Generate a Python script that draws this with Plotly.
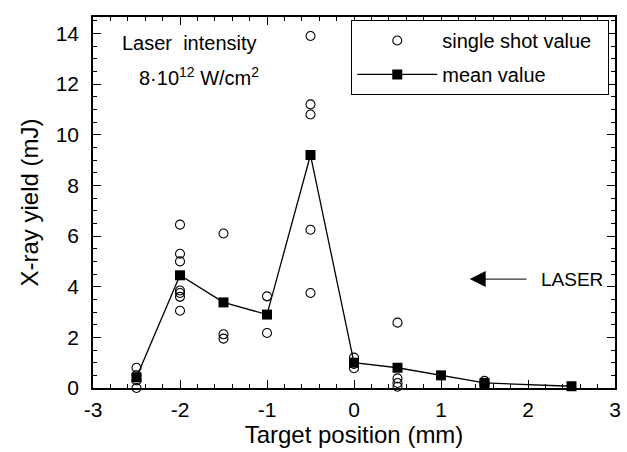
import plotly.graph_objects as go

# single shot values
shot_x = [-2.5, -2.5, -2.5, -2.5,
          -2, -2, -2, -2, -2, -2, -2,
          -1.5, -1.5, -1.5,
          -1, -1,
          -0.5, -0.5, -0.5, -0.5, -0.5,
          0, 0, 0,
          0.5, 0.5, 0.5, 0.5,
          1.5, 1.5, 1.5]
shot_y = [0.8, 0.5, 0.3, 0.0,
          6.45, 5.3, 5.0, 3.85, 3.75, 3.6, 3.05,
          6.1, 2.12, 1.95,
          3.62, 2.17,
          13.9, 11.2, 10.8, 6.25, 3.75,
          1.2, 0.95, 0.78,
          2.58, 0.38, 0.2, 0.05,
          0.28, 0.18, 0.12]

# mean values
mean_x = [-2.5, -2, -1.5, -1, -0.5, 0, 0.5, 1, 1.5, 2.5]
mean_y = [0.42, 4.45, 3.38, 2.9, 9.2, 1.0, 0.8, 0.5, 0.2, 0.07]

# tick labels
x_ticks = [-3, -2, -1, 0, 1, 2, 3]
x_labels = ["-3", "-2", "-1", "0", "1", "2", "3"]
y_ticks = [0, 2, 4, 6, 8, 10, 12, 14]
y_labels = ["0", "2", "4", "6", "8", "10", "12", "14"]

font_family = "Liberation Sans, Arial, Helvetica, sans-serif"

fig = go.Figure()
fig.add_trace(go.Scatter(
    x=shot_x, y=shot_y, mode="markers", name="single shot value\u00a0\u00a0", legendgroup="a",
    marker=dict(symbol="circle-open", size=9, color="black", line=dict(width=1.1)),
    cliponaxis=False,
))
fig.add_trace(go.Scatter(
    x=mean_x, y=mean_y, mode="lines+markers", name="mean value", legendgroup="b",
    line=dict(color="black", width=1.3),
    marker=dict(symbol="square", size=10, color="black"),
    cliponaxis=False,
))

axis_common = dict(
    showline=True, linecolor="black", linewidth=1.5, mirror="ticks",
    ticks="inside", ticklen=8, tickwidth=1.3, tickcolor="black",
    showgrid=False, zeroline=False, automargin=False,
    tickfont=dict(family=font_family, size=21, color="black"),
)

fig.update_xaxes(
    range=[-3, 3], tickmode="array", tickvals=x_ticks, ticktext=x_labels,
    minor=dict(ticks="inside", ticklen=4, tickwidth=1, tickcolor="black", dtick=0.2, tick0=-3),
    title=dict(text="Target position (mm)", font=dict(family=font_family, size=24, color="black"), standoff=4),
    ticklabelstandoff=2,
    **axis_common,
)
fig.update_yaxes(
    range=[0, 14.65], tickmode="array", tickvals=y_ticks, ticktext=y_labels,
    minor=dict(ticks="inside", ticklen=4, tickwidth=1, tickcolor="black", dtick=0.5, tick0=0),
    title=dict(text="X-ray yield (mJ)", font=dict(family=font_family, size=24, color="black"), standoff=10),
    ticklabelstandoff=8,
    **axis_common,
)

fig.add_annotation(x=0.052, y=0.93, xref="paper", yref="paper", xanchor="left", yanchor="middle",
                   text="Laser  intensity", showarrow=False,
                   font=dict(family=font_family, size=20, color="black"))
fig.add_annotation(x=0.084, y=0.84, xref="paper", yref="paper", xanchor="left", yanchor="middle",
                   text="8·10<sup>12</sup> W/cm<sup>2</sup>", showarrow=False,
                   font=dict(family=font_family, size=20, color="black"))

fig.add_annotation(x=2.51, y=4.3, xref="x", yref="y", text="LASER", showarrow=False,
                   font=dict(family=font_family, size=19, color="black"))
fig.add_annotation(x=1.33, y=4.3, ax=2.0, ay=4.3, xref="x", yref="y", axref="x", ayref="y",
                   text="", showarrow=True, arrowhead=2, arrowsize=3.2, arrowwidth=1,
                   arrowcolor="black", standoff=0, startstandoff=0)

fig.update_layout(
    width=627, height=452,
    margin=dict(l=93, r=12, t=17, b=64),
    paper_bgcolor="white", plot_bgcolor="white",
    font=dict(family=font_family, color="black"),
    showlegend=True,
    legend=dict(x=0.989, y=0.992, xanchor="right", yanchor="top",
                bordercolor="black", borderwidth=1, bgcolor="white",
                font=dict(family=font_family, size=20, color="black"),
                itemwidth=80, tracegroupgap=5, traceorder="grouped"),
)

fig.write_html("out.html")
